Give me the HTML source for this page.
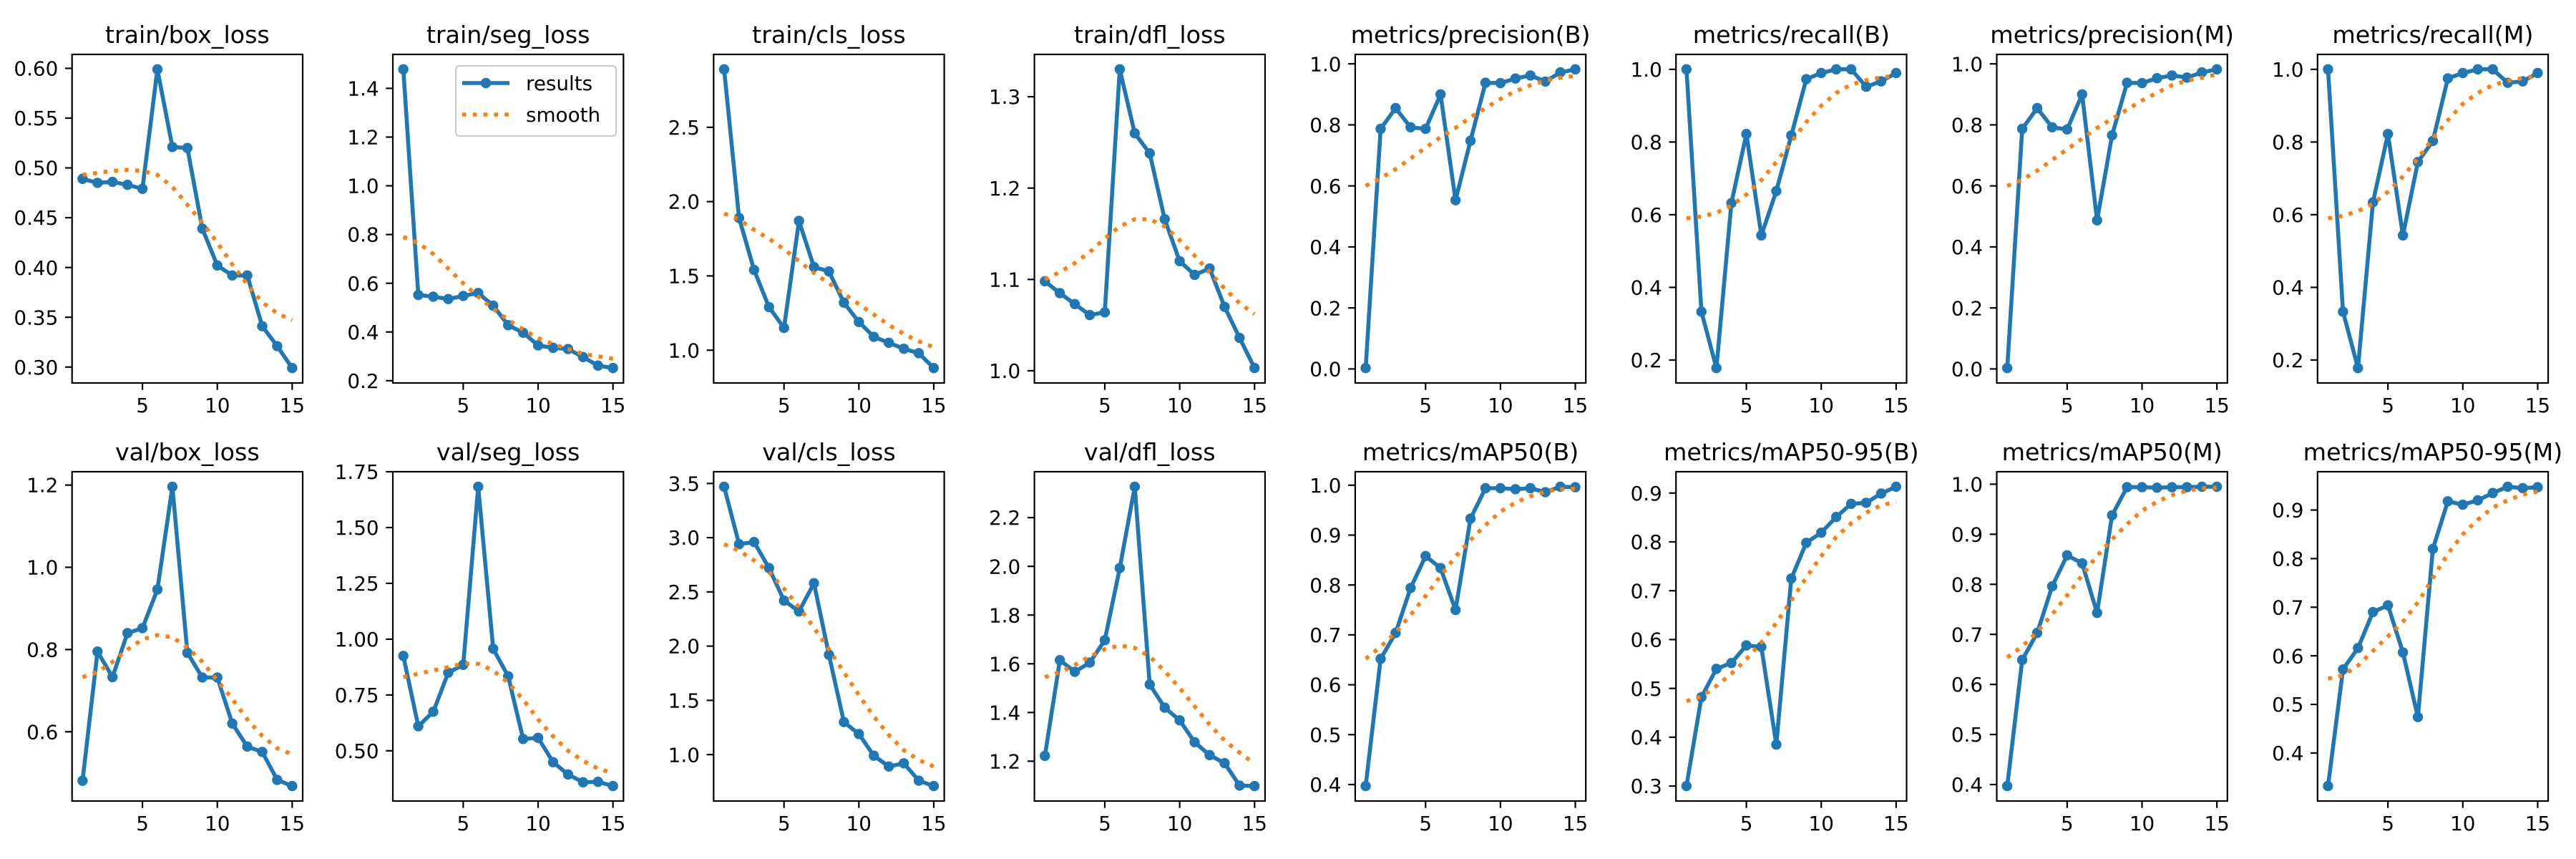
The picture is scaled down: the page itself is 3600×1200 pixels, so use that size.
<!DOCTYPE html>
<html><head><meta charset="utf-8"><style>
html,body{margin:0;padding:0;background:#fff;}
svg{display:block;font-family:"DejaVu Sans","Liberation Sans",sans-serif;}
</style></head>
<body>
<svg id="fig" width="3600" height="1200" viewBox="0 0 3600 1200" xmlns="http://www.w3.org/2000/svg">
<rect width="3600" height="1200" fill="#fff"/>
</svg>
<script>
const epochs = [1,2,3,4,5,6,7,8,9,10,11,12,13,14,15];
const titles = ["train/box_loss","train/seg_loss","train/cls_loss","train/dfl_loss","metrics/precision(B)","metrics/recall(B)","metrics/precision(M)","metrics/recall(M)","val/box_loss","val/seg_loss","val/cls_loss","val/dfl_loss","metrics/mAP50(B)","metrics/mAP50-95(B)","metrics/mAP50(M)","metrics/mAP50-95(M)"];
const res0 = [0.489,0.485,0.486,0.483,0.479,0.599,0.521,0.520,0.439,0.402,0.392,0.392,0.341,0.321,0.299];
const sm0  = [0.493,0.495,0.497,0.498,0.497,0.493,0.481,0.463,0.445,0.425,0.403,0.383,0.365,0.354,0.347];
const res1 = [1.478,0.552,0.545,0.535,0.548,0.560,0.508,0.428,0.397,0.345,0.335,0.330,0.297,0.262,0.252];
const sm1  = [0.790,0.765,0.720,0.660,0.600,0.545,0.495,0.450,0.410,0.375,0.350,0.330,0.310,0.300,0.290];
const res2 = [2.89,1.89,1.54,1.29,1.15,1.87,1.56,1.53,1.32,1.19,1.09,1.05,1.01,0.98,0.88];
const sm2  = [1.92,1.88,1.81,1.75,1.68,1.60,1.52,1.45,1.38,1.31,1.24,1.17,1.11,1.06,1.02];
const res3 = [1.098,1.085,1.073,1.061,1.064,1.330,1.260,1.238,1.166,1.120,1.105,1.112,1.070,1.036,1.003];
const sm3  = [1.100,1.108,1.118,1.130,1.145,1.158,1.166,1.166,1.158,1.143,1.126,1.108,1.090,1.074,1.062];
const res4 = [0.003,0.787,0.855,0.792,0.787,0.900,0.553,0.748,0.938,0.937,0.952,0.962,0.942,0.972,0.982];
const sm4  = [0.600,0.625,0.655,0.690,0.725,0.760,0.790,0.825,0.855,0.885,0.910,0.930,0.945,0.955,0.960];
const res5 = [1.000,0.333,0.178,0.632,0.822,0.543,0.665,0.818,0.973,0.990,1.000,1.000,0.952,0.967,0.990];
const sm5  = [0.590,0.595,0.605,0.625,0.655,0.695,0.745,0.800,0.855,0.900,0.935,0.958,0.970,0.978,0.982];
const res6 = [0.003,0.787,0.855,0.792,0.785,0.900,0.487,0.766,0.938,0.937,0.953,0.962,0.955,0.972,0.982];
const sm6  = [0.600,0.620,0.650,0.685,0.720,0.755,0.790,0.820,0.850,0.880,0.905,0.930,0.945,0.955,0.965];
const res7 = [1.000,0.333,0.178,0.634,0.822,0.543,0.745,0.803,0.975,0.990,1.000,1.000,0.963,0.967,0.990];
const sm7  = [0.590,0.597,0.610,0.630,0.663,0.705,0.755,0.810,0.860,0.905,0.935,0.957,0.968,0.976,0.982];
const res8 = [0.481,0.795,0.733,0.840,0.852,0.946,1.196,0.792,0.732,0.732,0.620,0.564,0.551,0.483,0.468];
const sm8  = [0.733,0.745,0.770,0.800,0.825,0.835,0.830,0.805,0.770,0.725,0.680,0.630,0.590,0.560,0.545];
const res9 = [0.925,0.610,0.675,0.850,0.885,1.683,0.957,0.834,0.553,0.558,0.449,0.394,0.359,0.361,0.342];
const sm9  = [0.830,0.845,0.860,0.875,0.890,0.890,0.860,0.805,0.730,0.640,0.565,0.500,0.455,0.420,0.400];
const res10 = [3.47,2.94,2.96,2.72,2.42,2.32,2.58,1.92,1.30,1.19,0.99,0.89,0.92,0.76,0.71];
const sm10  = [2.94,2.88,2.79,2.68,2.53,2.36,2.17,1.97,1.76,1.55,1.35,1.18,1.04,0.95,0.89];
const res11 = [1.222,1.615,1.567,1.605,1.697,1.993,2.327,1.515,1.420,1.368,1.278,1.225,1.192,1.100,1.098];
const sm11  = [1.545,1.565,1.595,1.630,1.660,1.675,1.665,1.630,1.570,1.500,1.425,1.350,1.285,1.235,1.190];
const res12 = [0.397,0.652,0.704,0.794,0.858,0.834,0.750,0.933,0.994,0.994,0.992,0.994,0.986,0.997,0.996];
const sm12  = [0.652,0.676,0.705,0.740,0.778,0.818,0.857,0.890,0.920,0.947,0.965,0.978,0.987,0.992,0.993];
const res13 = [0.300,0.482,0.540,0.552,0.588,0.585,0.385,0.725,0.798,0.819,0.851,0.878,0.880,0.899,0.913];
const sm13  = [0.474,0.483,0.505,0.530,0.560,0.594,0.634,0.680,0.727,0.771,0.810,0.838,0.860,0.875,0.882];
const res14 = [0.397,0.649,0.703,0.796,0.858,0.842,0.743,0.938,0.994,0.994,0.993,0.994,0.994,0.995,0.995];
const sm14  = [0.654,0.676,0.705,0.740,0.778,0.818,0.857,0.890,0.920,0.947,0.965,0.978,0.987,0.992,0.993];
const res15 = [0.332,0.572,0.616,0.690,0.704,0.607,0.474,0.820,0.918,0.911,0.920,0.935,0.948,0.945,0.947];
const sm15  = [0.553,0.560,0.580,0.610,0.640,0.670,0.710,0.760,0.810,0.850,0.880,0.905,0.920,0.932,0.938];
const yt0 = ["0.30","0.35","0.40","0.45","0.50","0.55","0.60"];
const yt1 = ["0.2","0.4","0.6","0.8","1.0","1.2","1.4"];
const yt2 = ["1.0","1.5","2.0","2.5"];
const yt3 = ["1.0","1.1","1.2","1.3"];
const yt4 = ["0.0","0.2","0.4","0.6","0.8","1.0"];
const yt5 = ["0.2","0.4","0.6","0.8","1.0"];
const yt6 = ["0.0","0.2","0.4","0.6","0.8","1.0"];
const yt7 = ["0.2","0.4","0.6","0.8","1.0"];
const yt8 = ["0.6","0.8","1.0","1.2"];
const yt9 = ["0.50","0.75","1.00","1.25","1.50","1.75"];
const yt10 = ["1.0","1.5","2.0","2.5","3.0","3.5"];
const yt11 = ["1.2","1.4","1.6","1.8","2.0","2.2"];
const yt12 = ["0.4","0.5","0.6","0.7","0.8","0.9","1.0"];
const yt13 = ["0.3","0.4","0.5","0.6","0.7","0.8","0.9"];
const yt14 = ["0.4","0.5","0.6","0.7","0.8","0.9","1.0"];
const yt15 = ["0.4","0.5","0.6","0.7","0.8","0.9"];
const xTicks = [5,10,15];

const RES=[res0,res1,res2,res3,res4,res5,res6,res7,res8,res9,res10,res11,res12,res13,res14,res15];
const SM=[sm0,sm1,sm2,sm3,sm4,sm5,sm6,sm7,sm8,sm9,sm10,sm11,sm12,sm13,sm14,sm15];
const YT=[yt0,yt1,yt2,yt3,yt4,yt5,yt6,yt7,yt8,yt9,yt10,yt11,yt12,yt13,yt14,yt15];

const NS="http://www.w3.org/2000/svg";
const fig=document.getElementById('fig');
function mk(tag,attrs,parent){const e=document.createElementNS(NS,tag);for(const k in attrs)e.setAttribute(k,attrs[k]);parent.appendChild(e);return e;}

const FS=27.8, TFS=33.3, BLUE="#1f77b4", ORANGE="#ff7f0e";
const rowTop=[76,659], rowBot=[535,1119];
for(let i=0;i<16;i++){
  const r=Math.floor(i/8), c=i%8;
  const L=100.7+c*448.3, W=322.3, T=rowTop[r], B=rowBot[r];
  const g=mk('g',{},fig);
  
  
  const xmin=Math.min(...epochs), xmax=Math.max(...epochs), xm=(xmax-xmin)*0.05;
  const X=v=>L+(v-(xmin-xm))/((xmax-xmin)+2*xm)*W;
  const all=RES[i].concat(SM[i]);
  const ymn=Math.min(...all), ymx=Math.max(...all), ym=(ymx-ymn)*0.05;
  const y0=ymn-ym, y1=ymx+ym;
  const Y=v=>B-(v-y0)/(y1-y0)*(B-T);
  const t=mk('text',{x:L+W/2,y:T-16,'text-anchor':'middle','font-size':TFS,fill:'#000'},g);
  t.textContent=titles[i];
  
  
  xTicks.forEach(v=>{
    const px=X(v);
    const tk=mk('line',{x1:px,x2:px,y1:B,y2:B+9.7,stroke:'#000','stroke-width':2.2},g);
    
    
    const tl=mk('text',{x:px,y:B+41,'text-anchor':'middle','font-size':FS,fill:'#000'},g);
    tl.textContent=String(v);
    
    
  });
  YT[i].forEach(s=>{
    const py=Y(parseFloat(s));
    const tk=mk('line',{x1:L-9.7,x2:L,y1:py,y2:py,stroke:'#000','stroke-width':2.2},g);
    
    
    const tl=mk('text',{x:L-19.4,y:py+10.1,'text-anchor':'end','font-size':FS,fill:'#000'},g);
    tl.textContent=s;
    
    
  });
  const cid='clip'+i;
  const cp=mk('clipPath',{id:cid},g); mk('rect',{x:L,y:T,width:W,height:B-T},cp);
  const pg=mk('g',{'clip-path':'url(#'+cid+')'},g);
  const pts=RES[i].map((v,k)=>X(epochs[k]).toFixed(2)+','+Y(v).toFixed(2)).join(' ');
  const ln=mk('polyline',{points:pts,fill:'none',stroke:BLUE,'stroke-width':5.6,'stroke-linejoin':'round'},pg);
  
  
  RES[i].forEach((v,k)=>{
    const m=mk('circle',{cx:X(epochs[k]),cy:Y(v),r:7.2,fill:BLUE},pg);
    
    
  });
  const spts=SM[i].map((v,k)=>X(epochs[k]).toFixed(2)+','+Y(v).toFixed(2)).join(' ');
  const sl=mk('polyline',{points:spts,fill:'none',stroke:ORANGE,'stroke-width':5.6,'stroke-dasharray':'5.6 9.2'},pg);
  
  
  const fr=mk('rect',{x:L,y:T,width:W,height:B-T,fill:'none',stroke:'#000','stroke-width':2.2},g);
  
  
  if(i===1){
    const lg=mk('g',{},g);
    
    
    mk('rect',{x:637,y:92,width:224,height:98,rx:5,fill:'#fff','fill-opacity':0.8,stroke:'#ccc','stroke-width':2.2},lg);
    mk('line',{x1:646,x2:712,y1:116,y2:116,stroke:BLUE,'stroke-width':5.6},lg);
    mk('circle',{cx:679,cy:116,r:7.2,fill:BLUE},lg);
    const e1=mk('text',{x:735,y:126,'font-size':FS,fill:'#000'},lg); e1.textContent='results';
    
    
    mk('line',{x1:646,x2:712,y1:160,y2:160,stroke:ORANGE,'stroke-width':5.6,'stroke-dasharray':'5.6 9.2'},lg);
    const e2=mk('text',{x:735,y:170,'font-size':FS,fill:'#000'},lg); e2.textContent='smooth';
    
    
  }
}
</script>
</body></html>
